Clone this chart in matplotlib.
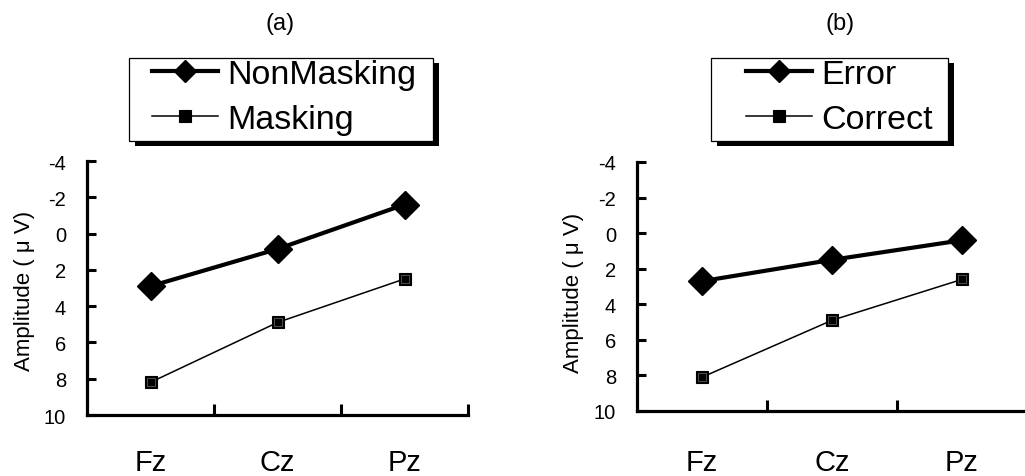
import matplotlib
matplotlib.use("Agg")
import matplotlib.pyplot as plt
from matplotlib.patches import Rectangle
from matplotlib.lines import Line2D

plt.rcParams["font.family"] = ["Liberation Sans", "DejaVu Sans"]

# ERP amplitudes (µV) at the three midline electrodes
electrodes = ["Fz", "Cz", "Pz"]
nonmasking = [2.9, 0.85, -1.6]
masking = [8.2, 4.9, 2.5]
error = [2.7, 1.5, 0.4]
correct = [8.1, 4.9, 2.6]
yticks = [-4, -2, 0, 2, 4, 6, 8, 10]
panel_titles = ["(a)", "(b)"]
ylabel = "Amplitude ( μ V)"

W, H = 1025, 477
fig = plt.figure(figsize=(W / 100, H / 100), dpi=100)


def px_box(x0, y0, x1, y1):
    """Figure-fraction rectangle from pixel edges (origin top-left)."""
    return [x0 / W, 1 - y1 / H, (x1 - x0) / W, (y1 - y0) / H]


def draw_panel(ax, thick_vals, thin_vals, xlab_pad):
    xs = [i + 0.5 for i in range(len(electrodes))]
    ax.plot(xs, thick_vals, color="black", lw=3.0, marker="D", ms=14.5,
            mfc="black", mec="black", mew=1, clip_on=False, zorder=3)
    ax.plot(xs, thin_vals, color="black", lw=1.1, marker="s", ms=8.5,
            mfc="black", mec="black", mew=0.8, clip_on=False, zorder=3)
    ax.plot(xs, thin_vals, ls="none", marker="s", ms=6.2, mfc="none",
            mec="#6e6e6e", mew=0.5, clip_on=False, zorder=4)

    ax.set_xlim(0, len(electrodes))
    ax.set_ylim(10, -4)
    ax.set_facecolor("none")
    for side in ("top", "right"):
        ax.spines[side].set_visible(False)
    for side in ("left", "bottom"):
        ax.spines[side].set_linewidth(2.3)
        ax.spines[side].set_capstyle("projecting")

    ax.set_yticks(yticks)
    ax.set_yticklabels([str(v) for v in yticks])
    ax.tick_params(axis="y", direction="in", length=6.5, width=2.2,
                   labelsize=14.5, pad=15)

    ax.set_xticks(range(1, len(electrodes) + 1))
    ax.set_xticklabels([])
    ax.tick_params(axis="x", which="major", direction="in", length=8,
                   width=2.2)
    ax.set_xticks(xs, minor=True)
    ax.set_xticklabels(electrodes, minor=True)
    ax.tick_params(axis="x", which="minor", length=0, labelsize=21,
                   pad=xlab_pad)


def draw_legend(labels, frame_px, handle_x, row_top):
    x0, y0, x1, y1 = frame_px
    # drop shadow and frame
    fig.add_artist(Rectangle(((x0 + 6) / W, 1 - (y1 + 5) / H),
                             (x1 - x0) / W, (y1 - y0) / H,
                             transform=fig.transFigure, facecolor="black",
                             edgecolor="none", zorder=4))
    fig.add_artist(Rectangle((x0 / W, 1 - y1 / H), (x1 - x0) / W,
                             (y1 - y0) / H, transform=fig.transFigure,
                             facecolor="white", edgecolor="black", lw=0.9,
                             zorder=4.5))
    handles = [
        Line2D([], [], color="black", lw=3.0, marker="D", ms=11.5,
               mfc="black", mec="black"),
        Line2D([], [], color="black", lw=1.1, marker="s", ms=8,
               mfc="black", mec="black", mew=0.8),
    ]
    leg = fig.legend(handles, labels, loc="upper left",
                     bbox_to_anchor=(handle_x / W, 1 - row_top / H),
                     bbox_transform=fig.transFigure, frameon=False,
                     fontsize=24.5, borderpad=0, borderaxespad=0,
                     handlelength=1.95, handletextpad=0.27,
                     labelspacing=0.42, numpoints=1)
    leg.set_zorder(5)


ax_a = fig.add_axes(px_box(87, 162, 468, 416))
draw_panel(ax_a, nonmasking, masking, xlab_pad=24)
ax_b = fig.add_axes(px_box(637, 163, 1027, 412))
draw_panel(ax_b, error, correct, xlab_pad=27)

fig.text(25 / W, 1 - 291 / H, ylabel, rotation=90, fontsize=16,
         ha="center", va="center")
fig.text(573 / W, 1 - 293 / H, ylabel, rotation=90, fontsize=16,
         ha="center", va="center")

fig.text(280 / W, 1 - 24 / H, panel_titles[0], fontsize=17,
         ha="center", va="center")
fig.text(840 / W, 1 - 24 / H, panel_titles[1], fontsize=17,
         ha="center", va="center")

draw_legend(["NonMasking", "Masking"], (129, 59, 433, 142), 152, 60)
draw_legend(["Error", "Correct"], (711, 59, 948, 142), 746, 60)

fig.savefig("out.png", dpi=100)
